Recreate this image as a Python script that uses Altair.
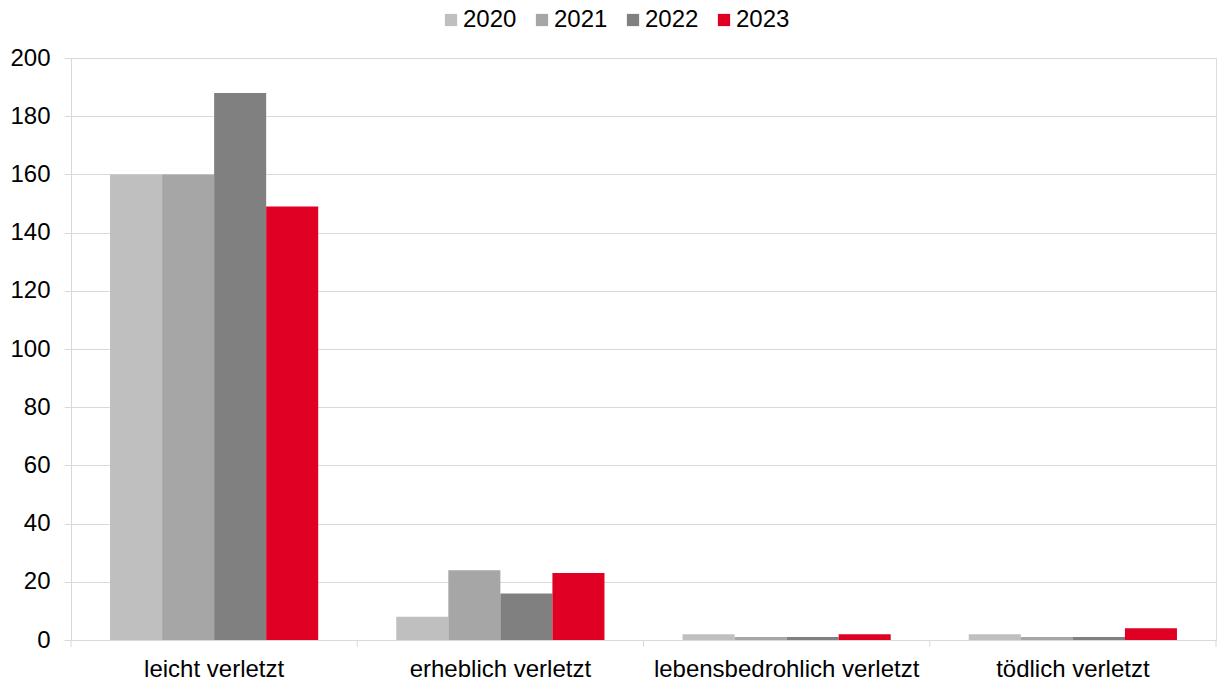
import altair as alt
import pandas as pd

categories = ["leicht verletzt", "erheblich verletzt", "lebensbedrohlich verletzt", "tödlich verletzt"]
years = ["2020", "2021", "2022", "2023"]
colors = ["#bfbfbf", "#a6a6a6", "#808080", "#e00024"]
values_2020 = [160, 8, 2, 2]
values_2021 = [160, 24, 1, 1]
values_2022 = [188, 16, 1, 1]
values_2023 = [149, 23, 2, 4]

series = {"2020": values_2020, "2021": values_2021, "2022": values_2022, "2023": values_2023}
rows = []
for y in years:
    for c, v in zip(categories, series[y]):
        rows.append({"Kategorie": c, "Jahr": y, "Wert": v})
df = pd.DataFrame(rows)
ticks_df = pd.DataFrame({"Kategorie": categories})

FONT = "Liberation Sans"
FS = 24
W, H = 1145, 582

xscale = alt.Scale(domain=categories, paddingInner=0, paddingOuter=0)

bars = alt.Chart(df).mark_bar().encode(
    x=alt.X("Kategorie:N", sort=categories, scale=xscale,
            axis=alt.Axis(title=None, labelAngle=0, ticks=False, domainColor="#d9d9d9",
                          labelFont=FONT, labelFontSize=FS, labelColor="#000000",
                          labelPadding=17, labelLimit=0, grid=False)),
    xOffset=alt.XOffset("Jahr:N", sort=years,
                        scale=alt.Scale(paddingInner=0, paddingOuter=0.75)),
    y=alt.Y("Wert:Q", scale=alt.Scale(domain=[0, 200], nice=False),
            axis=alt.Axis(title=None, values=list(range(0, 201, 20)), gridColor="#d9d9d9",
                          domainColor="#d9d9d9", tickColor="#d9d9d9", tickSize=7,
                          labelFont=FONT, labelFontSize=FS, labelColor="#000000",
                          labelPadding=14)),
    color=alt.Color("Jahr:N", sort=years,
                    scale=alt.Scale(domain=years, range=colors),
                    legend=alt.Legend(title=None, orient="none", direction="horizontal",
                                      legendX=368, legendY=-50, symbolType="square",
                                      symbolSize=150, symbolStrokeWidth=0,
                                      labelFont=FONT, labelFontSize=FS, labelColor="#000000",
                                      labelOffset=0, columnPadding=13, padding=0)),
)

tick_rules = alt.Chart(ticks_df).mark_rule(color="#d9d9d9", strokeWidth=1).encode(
    x=alt.X("Kategorie:N", sort=categories, bandPosition=0),
    y=alt.value(H),
    y2=alt.value(H + 7),
)
end_rule = alt.Chart(ticks_df).transform_filter(
    alt.datum.Kategorie == categories[-1]
).mark_rule(color="#d9d9d9", strokeWidth=1).encode(
    x=alt.X("Kategorie:N", sort=categories, bandPosition=1),
    y=alt.value(H),
    y2=alt.value(H + 7),
)

chart = alt.layer(bars, tick_rules, end_rule).properties(
    width=W, height=H,
    autosize=alt.AutoSizeParams(type="none"),
    padding={"left": 71, "top": 58, "right": 1, "bottom": 40},
).configure_view(stroke=None).configure(background="white")

chart.save("out.html", embed_options={"renderer": "svg", "actions": False})
